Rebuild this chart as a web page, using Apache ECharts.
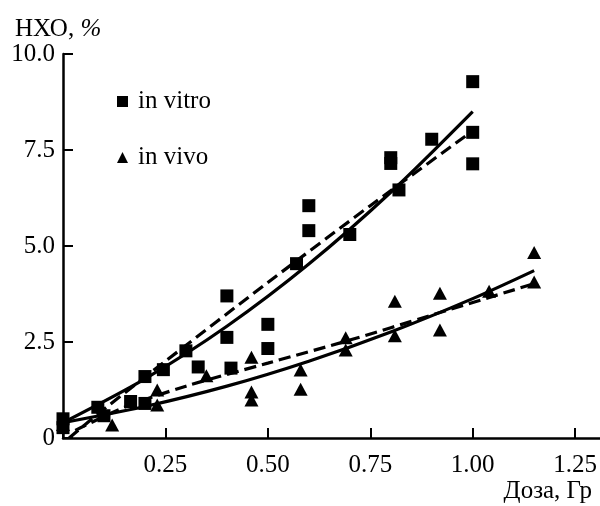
<!DOCTYPE html>
<html>
<head>
<meta charset="utf-8">
<script src="https://cdn.jsdelivr.net/npm/echarts@6/dist/echarts.min.js"></script>
<style>
  html, body { margin: 0; padding: 0; background: #fff; }
  #chart { width: 600px; height: 506px; }
</style>
</head>
<body>
<div id="chart"></div>
<script>
/* НХО vs dose — in vitro / in vivo points with solid and dashed fits */
const vitroDose = [0, 0, 0.085, 0.1, 0.165, 0.2, 0.2, 0.245, 0.3, 0.33, 0.4, 0.4, 0.41, 0.5, 0.5, 0.57, 0.6, 0.6, 0.7, 0.8, 0.8, 0.82, 0.9, 1.0, 1.0, 1.0];
const vitroVal  = [0.5, 0.27, 0.8, 0.58, 0.95, 1.6, 0.9, 1.78, 2.27, 1.85, 3.7, 2.62, 1.82, 2.96, 2.33, 4.54, 6.05, 5.4, 5.3, 7.3, 7.15, 6.46, 7.78, 9.28, 7.96, 7.14];

const vivoDose = [0, 0.12, 0.23, 0.23, 0.35, 0.46, 0.46, 0.46, 0.58, 0.58, 0.69, 0.69, 0.81, 0.81, 0.92, 0.92, 1.04, 1.15, 1.15];
const vivoVal  = [0.35, 0.34, 1.25, 0.86, 1.62, 2.1, 1.2, 0.99, 1.77, 1.27, 2.61, 2.29, 3.56, 2.66, 3.77, 2.81, 3.82, 4.83, 4.06];

// fitted curves
const vitroSolidDose = [0, 0.2, 0.4, 0.6, 0.8, 1.0];
const vitroSolidVal  = [0.4, 1.54, 2.91, 4.53, 6.4, 8.5];
const vitroDashDose  = [0.015, 0.1, 0.25, 0.5, 0.75, 1.0];
const vitroDashVal   = [0, 0.75, 2.0, 4.05, 6.05, 8.0];
const vivoSolidDose  = [0, 0.2, 0.4, 0.6, 0.8, 1.0, 1.15];
const vivoSolidVal   = [0.4, 0.82, 1.35, 2.0, 2.76, 3.63, 4.36];
const vivoDashDose   = [0.03, 0.15, 0.3, 0.5, 0.7, 0.9, 1.15];
const vivoDashVal    = [0.2, 0.8, 1.35, 1.95, 2.55, 3.2, 4.02];

const xTicks = [0.25, 0.5, 0.75, 1.0, 1.25];

const FONT = "'Liberation Serif', 'DejaVu Serif', serif";
const pairs = (xs, ys) => xs.map((x, i) => [x, ys[i]]);

const chart = echarts.init(document.getElementById('chart'));
chart.setOption({
  animation: false,
  title: [
    {
      text: 'НХО, {i|%}', left: 10, top: 12,
      textStyle: {
        color: '#000', fontSize: 25, fontWeight: 'normal', fontFamily: FONT,
        rich: { i: { fontStyle: 'italic', fontSize: 25, fontFamily: FONT, color: '#000' } }
      }
    },
    {
      text: 'Доза, Гр', right: 3, top: 474,
      textStyle: { color: '#000', fontSize: 25, fontWeight: 'normal', fontFamily: FONT }
    }
  ],
  legend: {
    orient: 'vertical', left: 112, top: 84, itemGap: 31,
    itemWidth: 11, itemHeight: 11,
    textStyle: { color: '#000', fontSize: 25, fontFamily: FONT, lineHeight: 24, padding: [0, 0, 0, 5] },
    data: [
      { name: 'in vitro', icon: 'rect' },
      { name: 'in vivo', icon: 'triangle' }
    ]
  },
  grid: { left: 63, right: 0, top: 54, bottom: 68 },
  xAxis: {
    type: 'value', min: 0, max: 1.31, interval: 0.25,
    axisLine: { lineStyle: { color: '#000', width: 2.5 } },
    axisTick: { inside: true, length: 10, lineStyle: { color: '#000', width: 2 } },
    axisLabel: {
      color: '#000', fontSize: 25, fontFamily: FONT, margin: 15, showMaxLabel: false,
      formatter: (v) => (xTicks.some((t) => Math.abs(t - v) < 1e-6) ? v.toFixed(2) : '')
    },
    splitLine: { show: false }
  },
  yAxis: {
    type: 'value', min: 0, max: 10, interval: 2.5,
    axisLine: { show: true, lineStyle: { color: '#000', width: 2.5 } },
    axisTick: { show: true, inside: true, length: 10, lineStyle: { color: '#000', width: 2 } },
    axisLabel: {
      color: '#000', fontSize: 25, fontFamily: FONT, margin: 8,
      formatter: (v) => (v === 0 ? '0' : v.toFixed(1))
    },
    splitLine: { show: false }
  },
  series: [
    {
      name: 'in vitro', type: 'scatter', symbol: 'rect', symbolSize: 13,
      itemStyle: { color: '#000', opacity: 1 }, data: pairs(vitroDose, vitroVal)
    },
    {
      name: 'in vivo', type: 'scatter', symbol: 'triangle', symbolSize: [14, 13],
      itemStyle: { color: '#000', opacity: 1 }, data: pairs(vivoDose, vivoVal)
    },
    {
      name: 'vitro-fit', type: 'line', smooth: 0.3, symbol: 'none',
      lineStyle: { color: '#000', width: 3.2 }, data: pairs(vitroSolidDose, vitroSolidVal)
    },
    {
      name: 'vitro-fit-d', type: 'line', smooth: 0.3, symbol: 'none',
      lineStyle: { color: '#000', width: 3.2, type: [12, 6] }, data: pairs(vitroDashDose, vitroDashVal)
    },
    {
      name: 'vivo-fit', type: 'line', smooth: 0.3, symbol: 'none',
      lineStyle: { color: '#000', width: 3.2 }, data: pairs(vivoSolidDose, vivoSolidVal)
    },
    {
      name: 'vivo-fit-d', type: 'line', smooth: 0.3, symbol: 'none',
      lineStyle: { color: '#000', width: 3.2, type: [12, 6] }, data: pairs(vivoDashDose, vivoDashVal)
    }
  ]
});
</script>
</body>
</html>
